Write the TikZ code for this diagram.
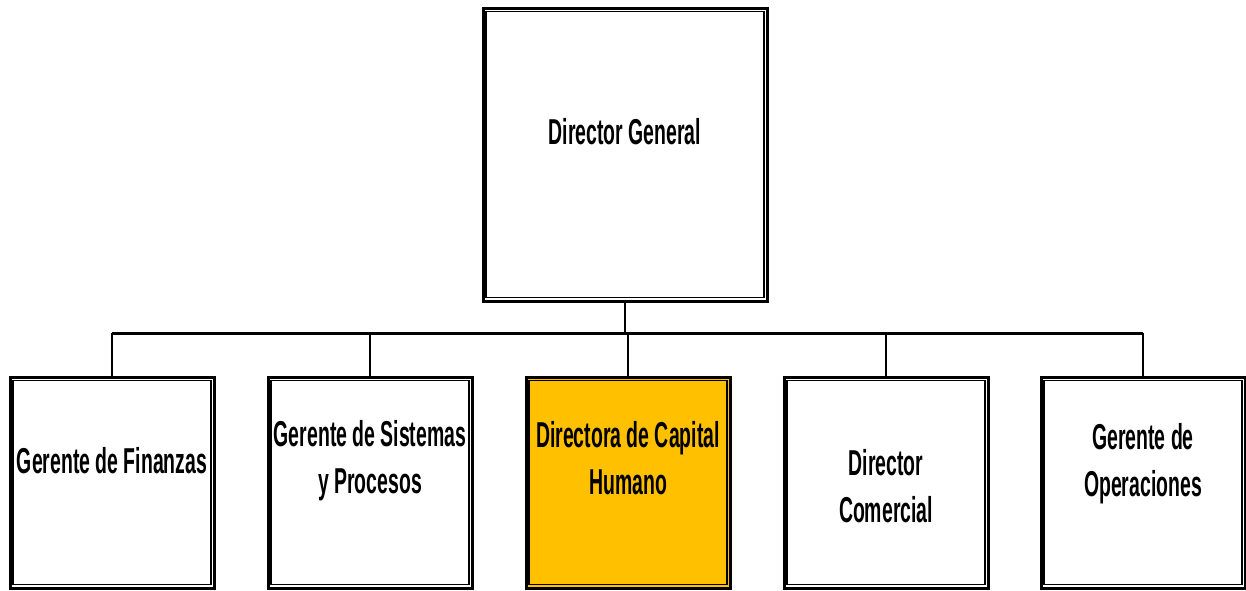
\documentclass[tikz,border=0pt]{standalone}
\usepackage{fontspec}
\setmainfont{Liberation Sans}[FakeStretch=0.54]
\usetikzlibrary{calc}
\definecolor{hrgold}{HTML}{FFC000}

\begin{document}
\begin{tikzpicture}[x=1pt,y=-1pt,
  frame/.style={draw=black, line width=3pt, inner sep=0pt, fill=white},
  topbox/.style={frame, minimum width=284pt, minimum height=293pt},
  unitbox/.style={frame, minimum width=204pt, minimum height=211pt},
  innerline/.style={draw=black, line width=1.7pt},
  bus/.style={draw=black, line width=3pt},
  link/.style={draw=black, line width=2pt},
  lbl/.style={font=\fontsize{36}{47}\selectfont\bfseries, align=center, inner sep=0pt, anchor=base}]

\useasboundingbox (0,0) rectangle (1246,590);
\fill[white] (0,0) rectangle (1246,590);

% boxes
\node[topbox] (dg) at (625,154.5) {};
\node[unitbox] (gf) at (112,482.5) {};
\node[unitbox] (gs) at (370,482.5) {};
\node[unitbox, fill=hrgold] (dc) at (628,482.5) {};
\node[unitbox] (dm) at (886,482.5) {};
\node[unitbox] (go) at (1143,482.5) {};

% inner rules of the double frames
\foreach \n in {dg,gf,gs,dc,dm,go}
  \draw[innerline] ($(\n.north west)+(4.5,5)$) rectangle ($(\n.south east)+(-4.5,-5)$);

% connectors
\coordinate (busy) at (0,333);
\draw[link] (dg.south) -- (dg.south |- busy);
\draw[bus] (gf.north |- busy) -- (go.north |- busy);
\foreach \n in {gf,gs,dc,dm,go}
  \draw[link] (\n.north |- busy) -- (\n.north);

% labels (base anchor sits on the last line)
\node[lbl] (tdg) at (625,144) {Director General};
\node[lbl] (tgf) at (112,473) {Gerente de Finanzas};
\node[lbl] (tgs) at (370,493) {Gerente de Sistemas\\y Procesos};
\node[lbl] (tdc) at (628,494) {Directora de Capital\\Humano};
\node[lbl] (tdm) at (886,522) {Director\\Comercial};
\node[lbl] (tgo) at (1143,496) {Gerente de\\Operaciones};
\end{tikzpicture}
\end{document}
